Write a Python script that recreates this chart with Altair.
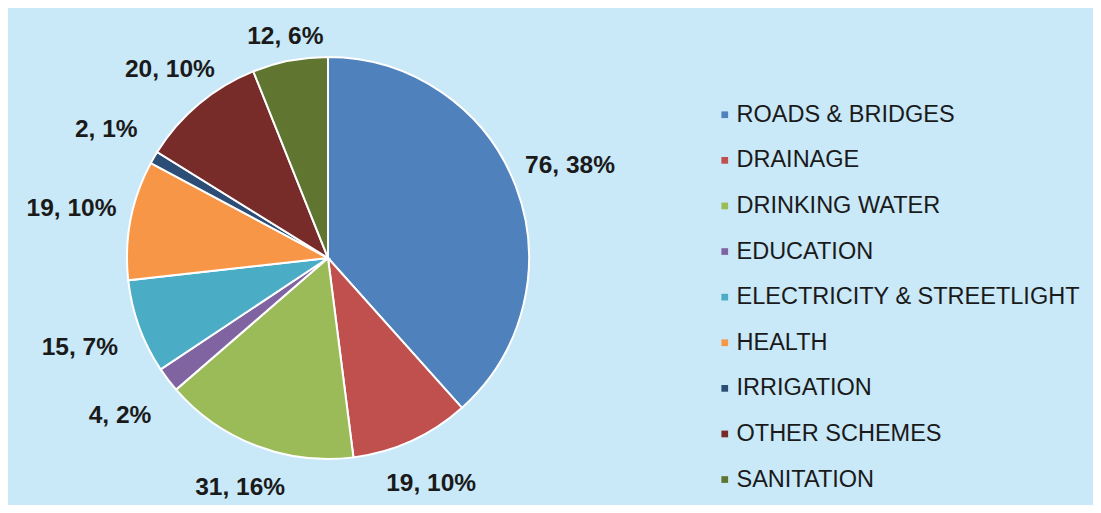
import altair as alt
import numpy as np
import pandas as pd

categories = ["ROADS & BRIDGES", "DRAINAGE", "DRINKING WATER", "EDUCATION",
              "ELECTRICITY & STREETLIGHT", "HEALTH", "IRRIGATION",
              "OTHER SCHEMES", "SANITATION"]
values = [76, 19, 31, 4, 15, 19, 2, 20, 12]
percents = [38, 10, 16, 2, 7, 10, 1, 10, 6]
colors = ["#4F81BD", "#C0504D", "#9BBB59", "#8064A2", "#4BACC6",
          "#F79646", "#2C4D75", "#772C2A", "#5F7530"]

df = pd.DataFrame({
    "category": categories,
    "value": values,
    "order": list(range(len(categories))),
    "label": [f"{v}, {p}%" for v, p in zip(values, percents)],
})
# label placement derived from the slice angles (outside the pie)
cum = np.cumsum(values) - np.array(values) / 2
mid = cum / sum(values) * 2 * np.pi
df["mid"] = mid
df["lr"] = 217 + 45 * np.abs(np.sin(mid)) + 14 * np.clip(-np.cos(mid), 0, None)

CX, CY = 320, 250

pie = alt.Chart(df).mark_arc(outerRadius=201, stroke="white", strokeWidth=2).encode(
    theta=alt.Theta("value:Q", stack=True),
    order=alt.Order("order:Q"),
    x=alt.value(CX), y=alt.value(CY),
    color=alt.Color(
        "category:N",
        scale=alt.Scale(domain=categories, range=colors),
        sort=categories,
        legend=alt.Legend(
            title=None, orient="none", legendX=705, legendY=95,
            symbolType="square", symbolSize=45, symbolStrokeWidth=0,
            labelFont="Liberation Sans", labelFontSize=23.5,
            labelColor="#1a1a1a", rowPadding=20.6, labelOffset=0,
            labelLimit=420,
        ),
    ),
)

text = alt.Chart(df).mark_text(font="Liberation Sans", fontSize=24.5,
                               fontWeight="bold", color="#1a1a1a").encode(
    theta=alt.Theta("mid:Q", scale=None),
    radius=alt.Radius("lr:Q", scale=None),
    x=alt.value(CX), y=alt.value(CY),
    text="label:N",
)

chart = (pie + text).properties(
    width=1085, height=497, padding=0, autosize="none",
).configure(background="#C9E8F8").configure_view(stroke=None)

chart.save("out.html", embed_options={"renderer": "svg", "actions": False})
